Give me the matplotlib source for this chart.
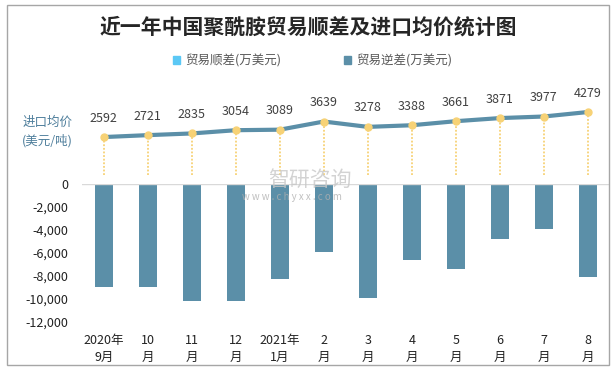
import matplotlib.pyplot as plt
from matplotlib.patches import Patch, Rectangle

plt.rcParams['font.family'] = ['Noto Sans CJK SC', 'DejaVu Sans']

months = ['2020年\n9月', '10\n月', '11\n月', '12\n月', '2021年\n1月', '2\n月',
          '3\n月', '4\n月', '5\n月', '6\n月', '7\n月', '8\n月']
trade_surplus = [0, 0, 0, 0, 0, 0, 0, 0, 0, 0, 0, 0]
trade_deficit = [-9000, -9000, -10230, -10230, -8320, -5970,
                 -9970, -6610, -7450, -4780, -3910, -8150]
import_price = [2592, 2721, 2835, 3054, 3089, 3639,
                3278, 3388, 3661, 3871, 3977, 4279]

bar_col = '#5B8FA8'
pos_col = '#5BC8F5'
dot_col = '#F7D276'

W, H = 616, 370
fig = plt.figure(figsize=(W / 100, H / 100), dpi=100)

x = list(range(len(months)))
left, right = 81.8 / W, 609.8 / W

# bars (lower part)
ax = fig.add_axes([left, 1 - 321.7 / H, right - left, (321.7 - 183.7) / H])
ax.bar(x, trade_surplus, width=0.4, color=pos_col)
ax.bar(x, trade_deficit, width=0.4, color=bar_col)
ax.set_xlim(-0.5, len(months) - 0.5)
ax.set_ylim(-12000, 0)
ax.set_yticks(range(-12000, 1, 2000))
ax.set_yticklabels([f'{v:,}' for v in range(-12000, 1, 2000)])
ax.axhline(0, color='#D9D9D9', lw=1)
for s in ax.spines.values():
    s.set_visible(False)
ax.tick_params(length=0, labelsize=9, colors='#222222')
ax.tick_params(axis='y', pad=10)
ax.set_xticks(x)
ax.set_xticklabels(months, linespacing=1.35)
ax.tick_params(axis='x', pad=9)

# price line (upper part)
ax2 = fig.add_axes([left, 1 - 175.5 / H, right - left, (175.5 - 100) / H])
ax2.set_xlim(-0.5, len(months) - 0.5)
ax2.set_ylim(0, 5090)
ax2.vlines(x, 0, import_price, colors=dot_col, linestyles=(0, (1, 1)), lw=1.3)
ax2.plot(x, import_price, color=bar_col, lw=3, zorder=3)
ax2.plot(x, import_price, 'o', color=dot_col, ms=5, zorder=4)
for xi, v in zip(x, import_price):
    ax2.annotate(str(v), (xi, v), xytext=(0, 9), textcoords='offset points',
                 ha='center', va='bottom', fontsize=9, color='#404040')
ax2.axis('off')

fig.text(22.7 / W, 1 - 122.7 / H, '进口均价', fontsize=9, color='#4F7F9C',
         ha='left', va='center')
fig.text(22 / W, 1 - 140.7 / H, '(美元/吨)', fontsize=9, color='#4F7F9C',
         ha='left', va='center')

fig.text(0.5, 1 - 27 / H, '近一年中国聚酰胺贸易顺差及进口均价统计图', fontsize=15,
         fontweight='bold', color='#262626', ha='center', va='center')

handles = [Patch(color=pos_col), Patch(color=bar_col)]
fig.legend(handles, ['贸易顺差(万美元)', '贸易逆差(万美元)'], loc='center',
           bbox_to_anchor=(0.507, 1 - 61 / H), ncol=2, frameon=False, fontsize=9,
           handlelength=0.6, handleheight=0.6, handletextpad=0.4,
           columnspacing=5.0, labelcolor='#595959')

# watermark
fig.text(268 / W, 1 - 180 / H, '智研咨询', fontsize=15, color='#C8C8C8',
         alpha=0.8, ha='left', va='center')
fig.text(242 / W, 1 - 197 / H, 'w w w . c h y x x . c o m', fontsize=7,
         color='#B0B0B0', alpha=0.8, ha='left', va='center')

fig.patches.append(Rectangle((7 / W, 1 - 365 / H), 602 / W, 360 / H,
                             transform=fig.transFigure, fill=False,
                             edgecolor='#A6A6A6', lw=1))

fig.savefig('out.png', dpi=100)
